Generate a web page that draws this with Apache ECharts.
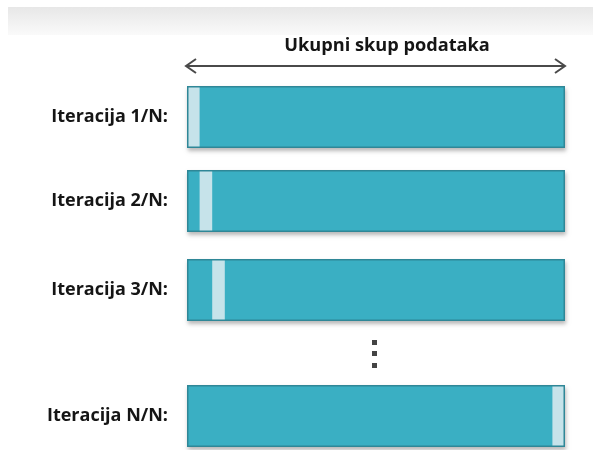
<!DOCTYPE html>
<html>
<head>
<meta charset="utf-8">
<script src="https://cdn.jsdelivr.net/npm/echarts@6/dist/echarts.min.js"></script>
<style>
html,body{margin:0;padding:0;background:#fff;}
#chart{width:593px;height:450px;}
</style>
</head>
<body>
<div id="chart"></div>
<script>
// ---- data ----
const categories = ['Iteracija 1/N:', 'Iteracija 2/N:', 'Iteracija 3/N:', 'Iteracija N/N:'];
const totalUnits = 30;            // whole data set, in folds
const testFoldIndex = [0, 1, 2, 29]; // position of the held-out fold in each iteration
const foldSize = 1;
const titleText = 'Ukupni skup podataka';

// ---- layout / style ----
const gridTops = [86, 170, 259, 385];
const barH = 62;
const left = 187, right = 28;
const teal = '#3aafc3', border = '#2f8797', light = '#c6e3ea';

const grids = [], xAxes = [], yAxes = [], series = [];
categories.forEach((c, i) => {
  grids.push({left: left, right: right, top: gridTops[i], height: barH});
  xAxes.push({type: 'value', gridIndex: i, min: 0, max: totalUnits, show: false});
  yAxes.push({
    type: 'category', gridIndex: i, data: [c],
    axisLine: {show: false}, axisTick: {show: false},
    axisLabel: {fontSize: 18, fontWeight: 'bold', color: '#151515', margin: 19, fontFamily: 'Open Sans'}
  });
  series.push({
    type: 'bar', xAxisIndex: i, yAxisIndex: i, data: [totalUnits], barWidth: '100%', barGap: '-100%',
    itemStyle: {color: teal, shadowColor: 'rgba(0,0,0,0.28)', shadowBlur: 4, shadowOffsetY: 3, shadowOffsetX: 1},
    silent: true
  });
  series.push({
    type: 'bar', xAxisIndex: i, yAxisIndex: i, stack: 's' + i, data: [testFoldIndex[i]], barWidth: '100%', barGap: '-100%',
    itemStyle: {color: 'rgba(0,0,0,0)'}, silent: true
  });
  series.push({
    type: 'bar', xAxisIndex: i, yAxisIndex: i, stack: 's' + i, data: [foldSize], barWidth: '100%', barGap: '-100%',
    itemStyle: {color: light}, silent: true
  });
  series.push({
    type: 'bar', xAxisIndex: i, yAxisIndex: i, data: [totalUnits], barWidth: '100%', barGap: '-100%',
    itemStyle: {color: 'rgba(0,0,0,0)', borderColor: border, borderWidth: 1.5}, silent: true
  });
});

const arrowY = 66, ax0 = 186, ax1 = 565;
const chart = echarts.init(document.getElementById('chart'));
chart.setOption({
  animation: false,
  backgroundColor: '#fff',
  title: {
    text: titleText, left: 382, top: 32, textAlign: 'center',
    textStyle: {fontSize: 18.2, fontWeight: 'bold', color: '#151515', fontFamily: 'Open Sans'}
  },
  grid: grids, xAxis: xAxes, yAxis: yAxes, series: series,
  graphic: [
    {type: 'rect', shape: {x: 8, y: 7, width: 585, height: 28}, z: -1,
     style: {fill: new echarts.graphic.LinearGradient(0, 0, 0, 1, [{offset: 0, color: '#e7e7e7'}, {offset: 1, color: '#fafafa'}])}},
    {type: 'line', shape: {x1: ax0, y1: arrowY, x2: ax1, y2: arrowY}, style: {stroke: '#4a4a4a', lineWidth: 2}},
    {type: 'polyline', shape: {points: [[ax0 + 10, arrowY - 7], [ax0, arrowY], [ax0 + 10, arrowY + 7]]}, style: {stroke: '#4a4a4a', lineWidth: 2, fill: null}},
    {type: 'polyline', shape: {points: [[ax1 - 10, arrowY - 7], [ax1, arrowY], [ax1 - 10, arrowY + 7]]}, style: {stroke: '#4a4a4a', lineWidth: 2, fill: null}},
    {type: 'rect', shape: {x: 372, y: 340, width: 5, height: 5}, style: {fill: '#444'}},
    {type: 'rect', shape: {x: 372, y: 351, width: 5, height: 5}, style: {fill: '#444'}},
    {type: 'rect', shape: {x: 372, y: 363, width: 5, height: 5}, style: {fill: '#444'}}
  ]
});
</script>
</body>
</html>
